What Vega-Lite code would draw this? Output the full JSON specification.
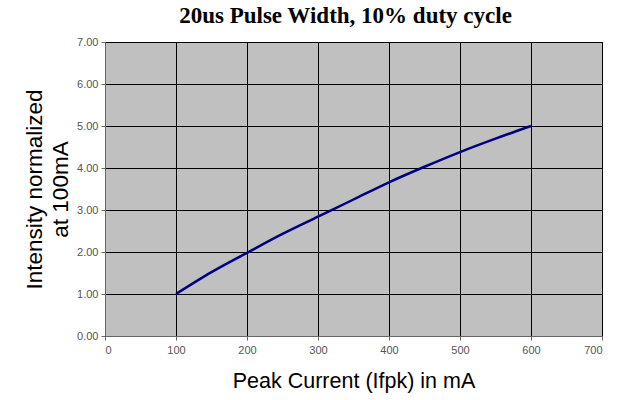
{
  "$schema": "https://vega.github.io/schema/vega-lite/v6.json",
  "width": 497,
  "height": 294,
  "autosize": {"type": "none"},
  "padding": {"left": 105, "top": 42, "right": 21, "bottom": 64},
  "background": "white",
  "config": {
    "view": {"fill": "#C0C0C0", "stroke": "#000000", "strokeWidth": 1}
  },
  "title": {
    "text": "20us Pulse Width, 10% duty cycle",
    "font": "Liberation Serif",
    "fontSize": 23,
    "fontWeight": "bold",
    "color": "#000000",
    "anchor": "middle",
    "dx": -8,
    "offset": 8
  },
  "data": {
    "values": [
      {"current": 100, "intensity": 1.0},
      {"current": 150, "intensity": 1.52},
      {"current": 200, "intensity": 1.98},
      {"current": 250, "intensity": 2.43},
      {"current": 300, "intensity": 2.84},
      {"current": 350, "intensity": 3.25},
      {"current": 400, "intensity": 3.66},
      {"current": 450, "intensity": 4.03},
      {"current": 500, "intensity": 4.38},
      {"current": 550, "intensity": 4.70},
      {"current": 600, "intensity": 5.0}
    ]
  },
  "mark": {"type": "line", "color": "#000080", "strokeWidth": 2.5, "interpolate": "monotone"},
  "encoding": {
    "x": {
      "field": "current",
      "type": "quantitative",
      "scale": {"domain": [0, 700], "nice": false},
      "axis": {
        "title": "Peak Current (Ifpk) in mA",
        "titleFont": "Liberation Sans",
        "titleFontSize": 21.5,
        "titleFontWeight": "normal",
        "titleColor": "#000000",
        "titlePadding": 15,
        "values": [0, 100, 200, 300, 400, 500, 600, 700],
        "labelFont": "Liberation Sans",
        "labelFontSize": 11,
        "labelColor": "#555555",
        "labelPadding": 4,
        "tickColor": "#666666",
        "tickSize": 4,
        "domainColor": "#666666",
        "grid": true,
        "gridColor": "#000000",
        "gridWidth": 1,
        "gridOpacity": 1
      }
    },
    "y": {
      "field": "intensity",
      "type": "quantitative",
      "scale": {"domain": [0, 7], "nice": false},
      "axis": {
        "title": ["Intensity normalized", "at 100mA"],
        "titleFont": "Liberation Sans",
        "titleFontSize": 22.5,
        "titleFontWeight": "normal",
        "titleColor": "#000000",
        "titleAlign": "center",
        "titleAnchor": "middle",
        "titlePadding": 4,
        "titleLineHeight": 26,
        "values": [0, 1, 2, 3, 4, 5, 6, 7],
        "format": ".2f",
        "labelFont": "Liberation Sans",
        "labelFontSize": 11,
        "labelColor": "#555555",
        "labelPadding": 3,
        "tickColor": "#666666",
        "tickSize": 4,
        "domainColor": "#666666",
        "grid": true,
        "gridColor": "#000000",
        "gridWidth": 1,
        "gridOpacity": 1
      }
    }
  }
}
